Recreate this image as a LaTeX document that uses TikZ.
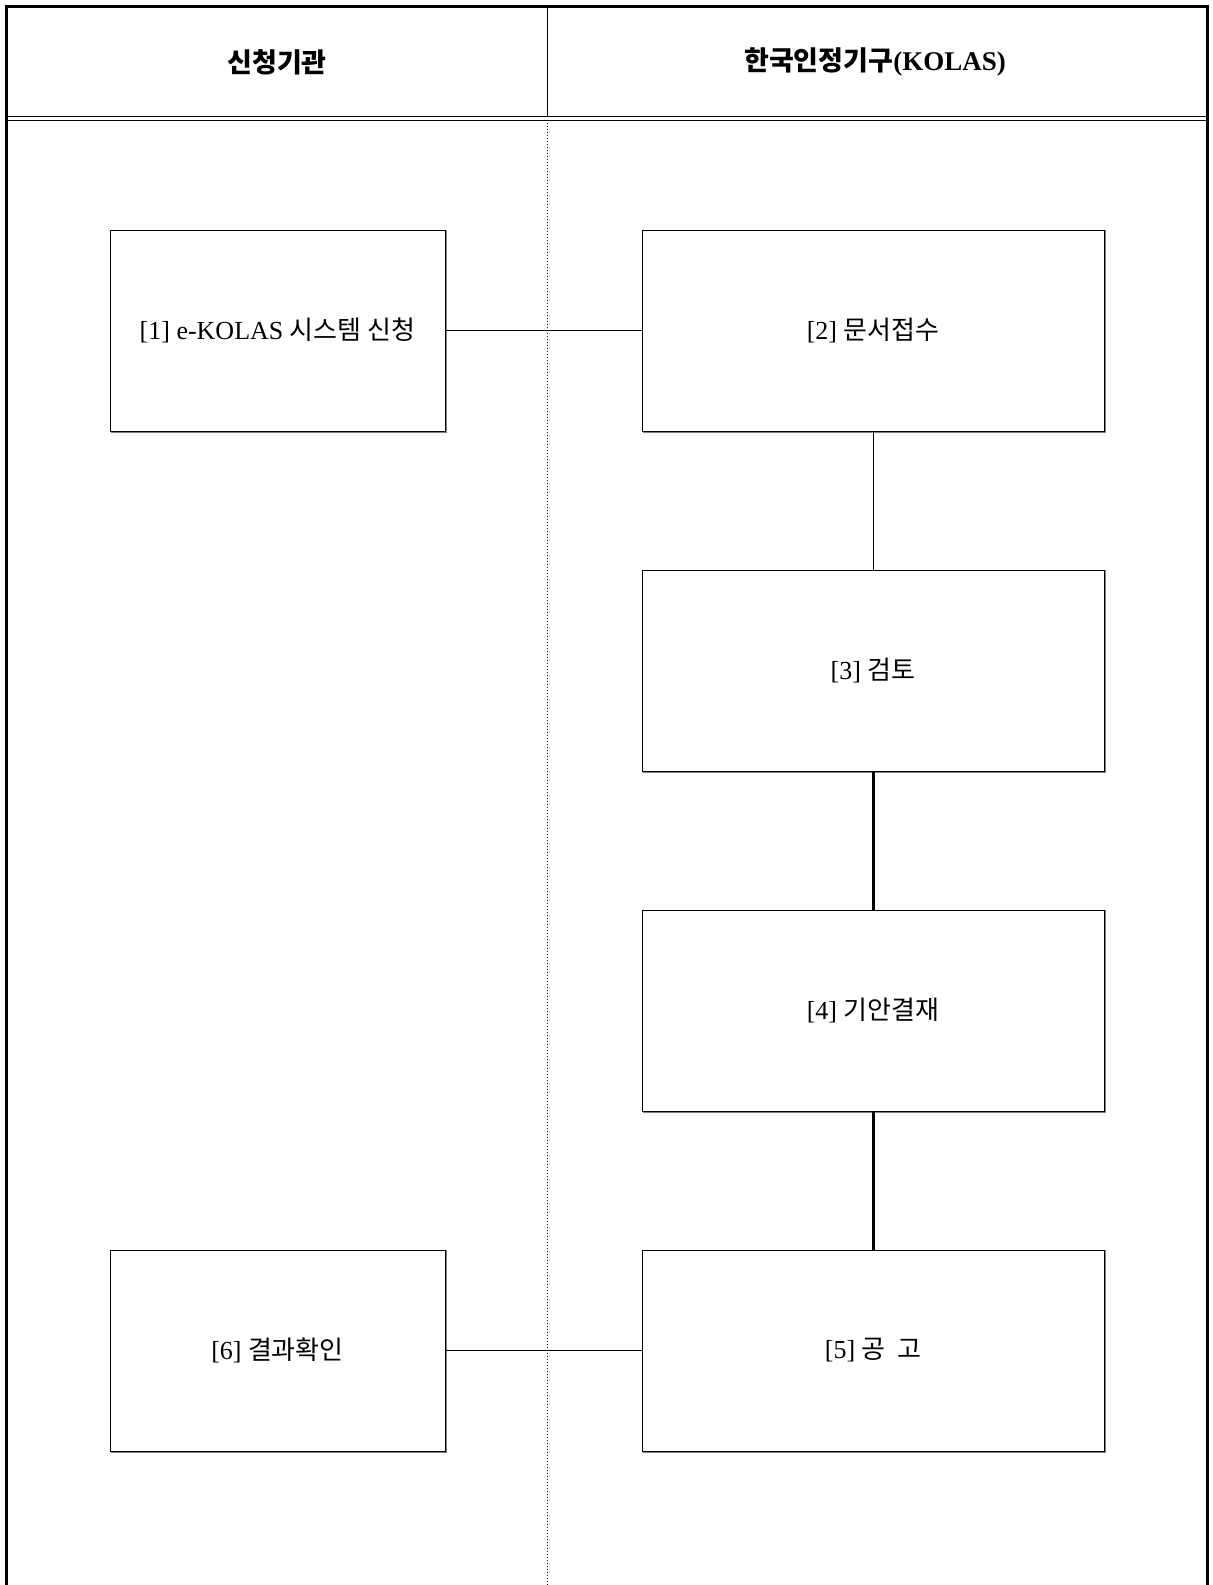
\documentclass[tikz,border=0pt]{standalone}
\usepackage{fontspec}
\usepackage{tikz}
\setmainfont{Liberation Serif}
\newfontfamily\kr{Noto Sans CJK KR}

\tikzset{
  stepbox/.style={draw, fill=white, line width=0.5pt, minimum height=100.5pt, font=\fontsize{13}{15}\selectfont},
  leftbox/.style={stepbox, minimum width=167.5pt},
  rightbox/.style={stepbox, minimum width=231pt},
  headtext/.style={font=\fontsize{13.5}{16}\selectfont\bfseries},
  boxshadow/.style={draw=gray, line width=0.6pt},
  thinlink/.style={line width=0.5pt},
  thicklink/.style={line width=1.5pt}
}

\begin{document}
\begin{tikzpicture}[x=0.5pt,y=-0.5pt]
	\useasboundingbox (0,0) rectangle (1212,1585);
	\draw [line width=1.5pt] (6,1585) -- (6,6) -- (1207,6) -- (1207,1585);
	\draw [line width=0.5pt] (6,116) -- (1207,116) (6,120) -- (1207,120);
	\draw [line width=0.5pt] (547,6) -- (547,116);
	\draw [line width=0.5pt, densely dotted] (547,120) -- (547,1585);
	\node [headtext] (orgA) at (277,62) {\kr 신청기관};
	\node [headtext] (orgB) at (875,62) {{\kr 한국인정기구}(KOLAS)};
	\node [leftbox] (apply) at (277.5,330.5) {[1] e-KOLAS {\kr 시스템 신청}};
	\node [rightbox] (receive) at (873,330.5) {[2] {\kr 문서접수}};
	\node [rightbox] (review) at (873,670.5) {[3] {\kr 검토}};
	\node [rightbox] (approve) at (873,1010.5) {[4] {\kr 기안결재}};
	\node [rightbox] (notice) at (873,1350.5) {[5] {\kr 공\ \ 고}};
	\node [leftbox] (confirm) at (277.5,1350.5) {[6] {\kr 결과확인}};
	\foreach \n in {apply,receive,review,approve,notice,confirm}
		\draw [boxshadow] ([xshift=0.6pt]\n.north east) -- ([xshift=0.6pt,yshift=-0.6pt]\n.south east) -- ([xshift=0.6pt,yshift=-0.6pt]\n.south west);
	\draw [thinlink] (apply) -- (receive);
	\draw [thinlink] (receive) -- (review);
	\draw [thicklink] (review) -- (approve);
	\draw [thicklink] (approve) -- (notice);
	\draw [thinlink] (notice) -- (confirm);
\end{tikzpicture}
\end{document}
